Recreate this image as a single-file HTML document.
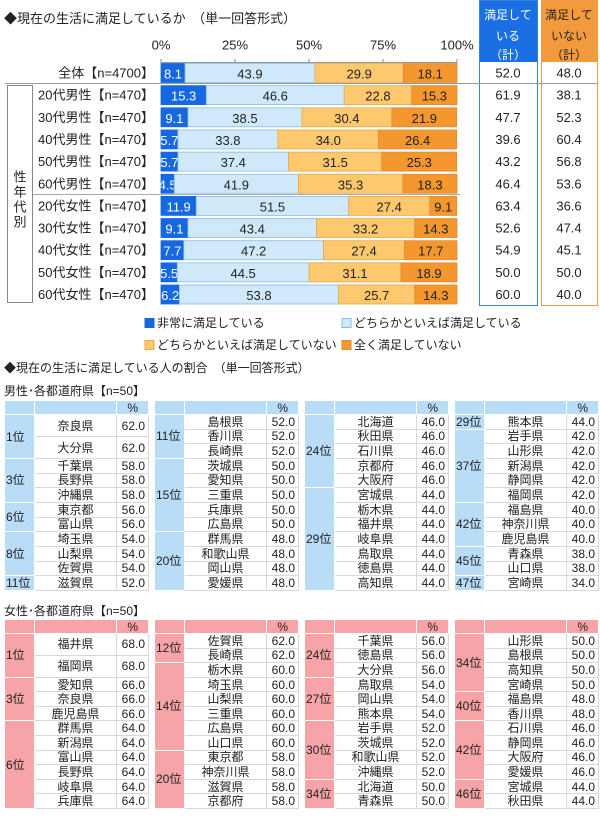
<!DOCTYPE html>
<html><head><meta charset="utf-8">
<style>
body{margin:0;width:600px;height:822px;background:#fff;font-family:"Liberation Sans","Noto Sans CJK JP",sans-serif;position:relative;overflow:hidden;color:#222}
.t{position:absolute;white-space:nowrap}
table{position:absolute;border-collapse:collapse;font-size:12px;table-layout:fixed}
td{padding:0;text-align:center;border:1px solid #fff;line-height:1;white-space:nowrap;overflow:hidden}
td.nm,td.vl{background:#fff;border:1px solid #d8d8d8}
td.vl{text-align:right;padding-right:3px}
</style></head><body>
<div class="t" style="left:4px;top:8px;font-size:13px">◆現在の生活に満足しているか　（単一回答形式）</div>
<svg id="chart" width="600" height="360" style="position:absolute;left:0;top:0"></svg>
<div class="t" style="left:4px;top:359px;font-size:12px">◆現在の生活に満足している人の割合　（単一回答形式）</div>
<div class="t" style="left:4px;top:382px;font-size:12px">男性･各都道府県【n=50】</div>
<div class="t" style="left:4px;top:602px;font-size:12px">女性･各都道府県【n=50】</div>
<div id="tables"></div>
<script>
const categories=["全体【n=4700】","20代男性【n=470】","30代男性【n=470】","40代男性【n=470】","50代男性【n=470】","60代男性【n=470】","20代女性【n=470】","30代女性【n=470】","40代女性【n=470】","50代女性【n=470】","60代女性【n=470】"];
const verySatisfied=[8.1,15.3,9.1,5.7,5.7,4.5,11.9,9.1,7.7,5.5,6.2];
const somewhatSatisfied=[43.9,46.6,38.5,33.8,37.4,41.9,51.5,43.4,47.2,44.5,53.8];
const somewhatNot=[29.9,22.8,30.4,34.0,31.5,35.3,27.4,33.2,27.4,31.1,25.7];
const notAtAll=[18.1,15.3,21.9,26.4,25.3,18.3,9.1,14.3,17.7,18.9,14.3];
const satisfiedTotal=["52.0","61.9","47.7","39.6","43.2","46.4","63.4","52.6","54.9","50.0","60.0"];
const notSatisfiedTotal=["48.0","38.1","52.3","60.4","56.8","53.6","36.6","47.4","45.1","50.0","40.0"];
const tickLabels=["0%","25%","50%","75%","100%"];
const tickValues=[0,25,50,75,100];

const NS="http://www.w3.org/2000/svg";
const svg=document.getElementById('chart');
const X0=161,X1=457;
const xs=v=>X0+(X1-X0)*v/100;
const rowY=i=>73+22.15*i;
const BH=19;
function mk(tag,at,parent){const e=document.createElementNS(NS,tag);for(const k in at)e.setAttribute(k,at[k]);(parent||svg).appendChild(e);return e;}
function tx(x,y,s,at){const e=mk('text',Object.assign({x:x,y:y,'font-size':13,'text-anchor':'middle','dominant-baseline':'central','font-family':'"Liberation Sans","Noto Sans CJK JP",sans-serif',fill:'#222'},at||{}));e.textContent=s;return e;}

let r=mk('rect',{x:479,y:0,width:58,height:62,fill:'#1a6fe2'});


r=mk('rect',{x:479.5,y:0.5,width:58,height:305,fill:'none',stroke:'#3c82d2'});


r=mk('rect',{x:541,y:0,width:56,height:62,fill:'#f39a3c'});


r=mk('rect',{x:541.5,y:0.5,width:56,height:305,fill:'none',stroke:'#ee9a48'});


[["満足して",15],["いる",36],["（計）",55]].forEach(a=>{const t=tx(508,a[1],a[0],{fill:'#fff','font-size':12});});
[["満足して",15],["いない",36],["（計）",55]].forEach(a=>{const t=tx(569,a[1],a[0],{fill:'#222','font-size':12});});

tickValues.forEach((v,i)=>{const t=tx(xs(v),45,tickLabels[i]);
 const l=mk('line',{x1:xs(v),x2:xs(v),y1:59,y2:63,stroke:'#888'});});
let ax=mk('line',{x1:X0,x2:X1,y1:62.5,y2:62.5,stroke:'#999'});



let sp=mk('line',{x1:5,x2:598,y1:83.5,y2:83.5,stroke:'#999'});


sp=mk('line',{x1:33,x2:460,y1:194.5,y2:194.5,stroke:'#aaa'});


let gb=mk('rect',{x:7.5,y:85.5,width:25,height:217,fill:'none',stroke:'#888'});


["性","年","代","別"].forEach((c,i)=>{const t=tx(20,177+i*15,c);});

const series=[verySatisfied,somewhatSatisfied,somewhatNot,notAtAll];
const fills=['#1668e0','#cfe9fb','#fdc86e','#f5972f'];
const strokes=['#1668e0','#86bde3','#e8a84a','#e08a30'];
const names=['bar-very-satisfied','bar-somewhat-satisfied','bar-somewhat-not','bar-not-at-all'];
categories.forEach((c,i)=>{
 const y=rowY(i);
 const lb=tx(154,y,c,{'text-anchor':'end'});
 let acc=0;
 series.forEach((s,k)=>{
  const v=s[i];const x=xs(acc),w=xs(acc+v)-xs(acc);
  const b=mk('rect',{x:x,y:y-BH/2,width:w,height:BH,fill:fills[k],stroke:strokes[k],'stroke-width':0.8});
  
  
  const t=tx(x+w/2,y+1,v.toFixed(1),{fill:k==0?'#fff':'#222'});
  
  
  acc+=v;
 });
 const a=tx(508,y,satisfiedTotal[i]);
 const b2=tx(569,y,notSatisfiedTotal[i]);
});

[["非常に満足している",145,323,0],["どちらかといえば満足している",342,323,1],["どちらかといえば満足していない",145,345,2],["全く満足していない",342,345,3]].forEach(a=>{
 const s=mk('rect',{x:a[1],y:a[2]-4.5,width:9,height:9,fill:fills[a[3]],stroke:strokes[a[3]]});
 
 
 const t=tx(a[1]+12,a[2],a[0],{'text-anchor':'start','font-size':12});
 
 
});

const maleTables=[
 [["1位",[["奈良県","62.0"],["大分県","62.0"]]],["3位",[["千葉県","58.0"],["長野県","58.0"],["沖縄県","58.0"]]],["6位",[["東京都","56.0"],["富山県","56.0"]]],["8位",[["埼玉県","54.0"],["山梨県","54.0"],["佐賀県","54.0"]]],["11位",[["滋賀県","52.0"]]]],
 [["11位",[["島根県","52.0"],["香川県","52.0"],["長崎県","52.0"]]],["15位",[["茨城県","50.0"],["愛知県","50.0"],["三重県","50.0"],["兵庫県","50.0"],["広島県","50.0"]]],["20位",[["群馬県","48.0"],["和歌山県","48.0"],["岡山県","48.0"],["愛媛県","48.0"]]]],
 [["24位",[["北海道","46.0"],["秋田県","46.0"],["石川県","46.0"],["京都府","46.0"],["大阪府","46.0"]]],["29位",[["宮城県","44.0"],["栃木県","44.0"],["福井県","44.0"],["岐阜県","44.0"],["鳥取県","44.0"],["徳島県","44.0"],["高知県","44.0"]]]],
 [["29位",[["熊本県","44.0"]]],["37位",[["岩手県","42.0"],["山形県","42.0"],["新潟県","42.0"],["静岡県","42.0"],["福岡県","42.0"]]],["42位",[["福島県","40.0"],["神奈川県","40.0"],["鹿児島県","40.0"]]],["45位",[["青森県","38.0"],["山口県","38.0"]]],["47位",[["宮崎県","34.0"]]]]
];
const femaleTables=[
 [["1位",[["福井県","68.0"],["福岡県","68.0"]]],["3位",[["愛知県","66.0"],["奈良県","66.0"],["鹿児島県","66.0"]]],["6位",[["群馬県","64.0"],["新潟県","64.0"],["富山県","64.0"],["長野県","64.0"],["岐阜県","64.0"],["兵庫県","64.0"]]]],
 [["12位",[["佐賀県","62.0"],["長崎県","62.0"]]],["14位",[["栃木県","60.0"],["埼玉県","60.0"],["山梨県","60.0"],["三重県","60.0"],["広島県","60.0"],["山口県","60.0"]]],["20位",[["東京都","58.0"],["神奈川県","58.0"],["滋賀県","58.0"],["京都府","58.0"]]]],
 [["24位",[["千葉県","56.0"],["徳島県","56.0"],["大分県","56.0"]]],["27位",[["鳥取県","54.0"],["岡山県","54.0"],["熊本県","54.0"]]],["30位",[["岩手県","52.0"],["茨城県","52.0"],["和歌山県","52.0"],["沖縄県","52.0"]]],["34位",[["北海道","50.0"],["青森県","50.0"]]]],
 [["34位",[["山形県","50.0"],["島根県","50.0"],["高知県","50.0"],["宮崎県","50.0"]]],["40位",[["福島県","48.0"],["香川県","48.0"]]],["42位",[["石川県","46.0"],["静岡県","46.0"],["大阪府","46.0"],["愛媛県","46.0"]]],["46位",[["宮城県","44.0"],["秋田県","44.0"]]]]
];
const host=document.getElementById('tables');
function build(groups,left,top,bodyH,color,nm){
 const tb=document.createElement('table');
 
 
 tb.style.left=left+'px';tb.style.top=top+'px';tb.style.width='144px';tb.style.height=(bodyH+14)+'px';
 const cg=document.createElement('colgroup');[30,82,32].forEach(w=>{const c=document.createElement('col');c.style.width=w+'px';cg.appendChild(c);});tb.appendChild(cg);
 const hr=document.createElement('tr');hr.style.height='14px';
 ["","","%"].forEach((h,i)=>{const td=document.createElement('td');td.textContent=h;td.style.background=color;if(i==2){td.style.textAlign='right';td.style.paddingRight='10px';}
  
  
  hr.appendChild(td);});
 tb.appendChild(hr);
 let n=0;groups.forEach(g=>n+=g[1].length);
 let heights=[];
 if(n==11){const tall=(bodyH-9*(bodyH/12))/2;for(let i=0;i<11;i++)heights.push(i<2?tall:bodyH/12);}
 else for(let i=0;i<n;i++)heights.push(bodyH/n);
 let k=0;
 groups.forEach(g=>{g[1].forEach((row,j)=>{
  const tr=document.createElement('tr');tr.style.height=heights[k].toFixed(2)+'px';k++;
  if(j==0){const rk=document.createElement('td');rk.rowSpan=g[1].length;rk.textContent=g[0];rk.style.background=color;rk.style.textAlign='left';rk.style.paddingLeft='1px';
   
   
   tr.appendChild(rk);}
  const a=document.createElement('td');a.className='nm';a.textContent=row[0];
  
  
  const b=document.createElement('td');b.className='vl';b.textContent=row[1];
  
  
  tr.appendChild(a);tr.appendChild(b);tb.appendChild(tr);
 });});
 host.appendChild(tb);
}
[4,154,304,454].forEach((x,i)=>{
 build(maleTables[i],x,400,176,'#b9dcf7','male-ranking-table');
 build(femaleTables[i],x,619,175,'#f7a4a8','female-ranking-table');
});
</script>
</body></html>
